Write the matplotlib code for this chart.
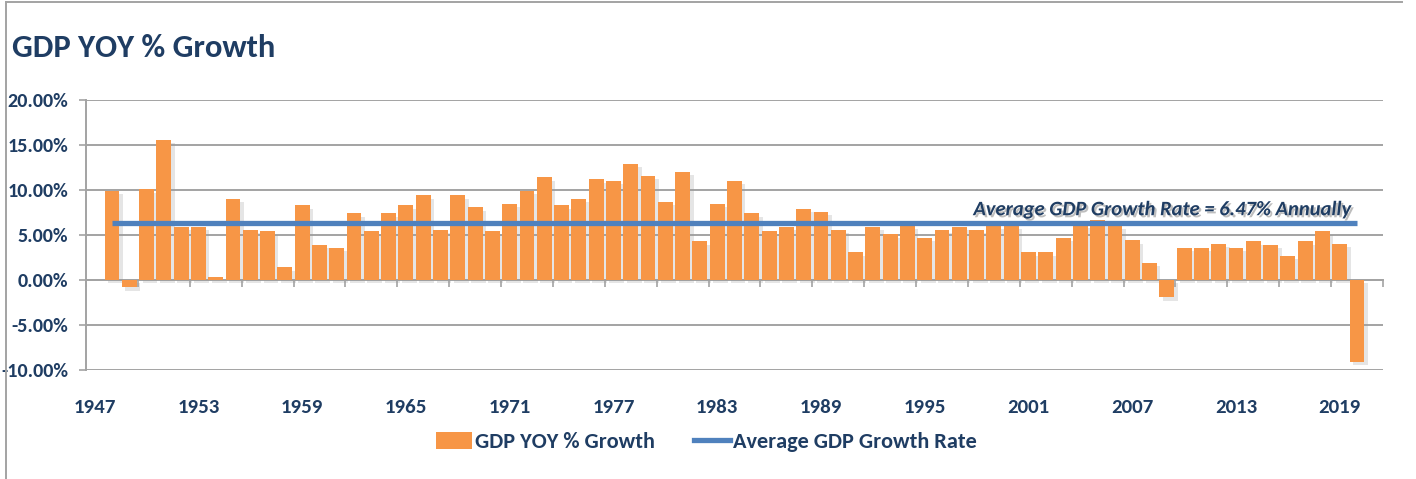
"""GDP YOY % growth bar chart with average line."""
from __future__ import annotations

import matplotlib

matplotlib.use("Agg")
import matplotlib.pyplot as plt
import matplotlib.patheffects as pe
from matplotlib.lines import Line2D
from matplotlib.patches import Patch

# data
years = list(range(1948, 2021))
growth = [
    9.9, -0.8,
    10.1, 15.6, 5.9, 5.9, 0.3, 9.0, 5.6, 5.4, 1.4, 8.3,
    3.9, 3.6, 7.4, 5.4, 7.4, 8.3, 9.4, 5.6, 9.4, 8.1,
    5.4, 8.5, 9.9, 11.4, 8.3, 9.0, 11.2, 11.0, 12.9, 11.6,
    8.7, 12.0, 4.3, 8.5, 11.0, 7.4, 5.4, 5.9, 7.9, 7.6,
    5.6, 3.1, 5.9, 5.1, 6.0, 4.7, 5.6, 5.9, 5.6, 6.0,
    6.0, 3.1, 3.1, 4.7, 6.2, 6.7, 6.0, 4.4, 1.9, -1.9,
    3.6, 3.6, 4.0, 3.6, 4.3, 3.9, 2.7, 4.3, 5.4, 4.0,
    -9.1,
]
avg_line = 6.3
avg_label = "Average GDP Growth Rate = 6.47% Annually"
label_years = list(range(1947, 2020, 6))
y_ticks = [-10, -5, 0, 5, 10, 15, 20]

ORANGE = "#F79646"
BLUE = "#4F81BD"
NAVY = "#1F3D63"
GRID = "#A3A3A3"
FONT = ["Carlito", "PT Sans Narrow", "DejaVu Sans"]


def main() -> None:
    plt.rcParams["font.family"] = FONT
    plt.rcParams["font.weight"] = "bold"
    fig = plt.figure(figsize=(14.16, 4.79), dpi=100)
    W, H = 1416, 479
    ax = fig.add_axes([86 / W, 1 - 370 / H, (1383 - 86) / W, 270 / H])

    shadow = [pe.SimplePatchShadow(offset=(2.5, -2.5), shadow_rgbFace="#9a9a9a", alpha=0.25), pe.Normal()]
    bars = ax.bar(years, growth, width=0.86, color=ORANGE, zorder=3)
    for b in bars:
        b.set_path_effects(shadow)
    ax.plot(years, [avg_line] * len(years), color=BLUE, lw=3.8, zorder=4, solid_capstyle="butt")

    txt = ax.text(2019.6, 7.2, avg_label, ha="right", va="baseline", fontsize=14.8,
                  style="italic", fontweight="bold", color=NAVY, zorder=5)
    txt.set_path_effects([pe.SimplePatchShadow(offset=(1.5, -1.5), shadow_rgbFace="#707070", alpha=0.45),
                          pe.Normal()])

    ax.set_xlim(1946.5, 2021.5)
    ax.set_ylim(-10, 20)
    ax.set_yticks(y_ticks)
    ax.set_yticklabels([f"{v:.2f}%" for v in y_ticks])
    ax.yaxis.grid(True, color=GRID, lw=1.4, zorder=0)
    ax.set_axisbelow(True)
    ax.tick_params(axis="y", length=5, width=1.2, color=GRID, pad=8, labelsize=14.5, labelcolor=NAVY)

    for s in ("top", "right"):
        ax.spines[s].set_visible(False)
    ax.spines["left"].set_color(GRID)
    ax.spines["left"].set_linewidth(1.4)
    ax.spines["bottom"].set_position(("data", 0))
    ax.spines["bottom"].set_color(GRID)
    ax.spines["bottom"].set_linewidth(1.4)
    ax.spines["bottom"].set_zorder(2)

    ax.set_xticks([1946.5 + 3 * k for k in range(26)])
    ax.tick_params(axis="x", length=5, width=1.2, color=GRID, labelbottom=False)

    sec = ax.secondary_xaxis(0)
    sec.set_xticks(label_years)
    sec.set_xticklabels([str(y) for y in label_years])
    sec.tick_params(length=0, pad=21, labelsize=15, labelcolor=NAVY)
    sec.spines["bottom"].set_visible(False)

    fig.text(12 / W, 1 - 57 / H, "GDP YOY % Growth", fontsize=23.5, fontweight="bold",
             color=NAVY, ha="left", va="baseline")

    handles = [Patch(facecolor=ORANGE, edgecolor="none"), Line2D([], [], color=BLUE, lw=3.8)]
    fig.legend(handles, ["GDP YOY % Growth", "Average GDP Growth Rate"], loc="center",
               bbox_to_anchor=(0.499, 1 - 442 / H), ncol=2, frameon=False,
               prop={"family": FONT, "weight": "bold", "size": 16}, labelcolor=NAVY,
               handlelength=1.6, handleheight=0.8, handletextpad=0.15, columnspacing=1.75)

    fig.add_artist(Line2D([6 / W, 6 / W], [0, 1 - 2 / H], color=GRID, lw=1.4))
    fig.add_artist(Line2D([6 / W, 1402 / W], [1 - 2 / H, 1 - 2 / H], color=GRID, lw=1.4))

    fig.savefig("out.png", dpi=100, facecolor="white")
    plt.close(fig)


if __name__ == "__main__":
    main()
